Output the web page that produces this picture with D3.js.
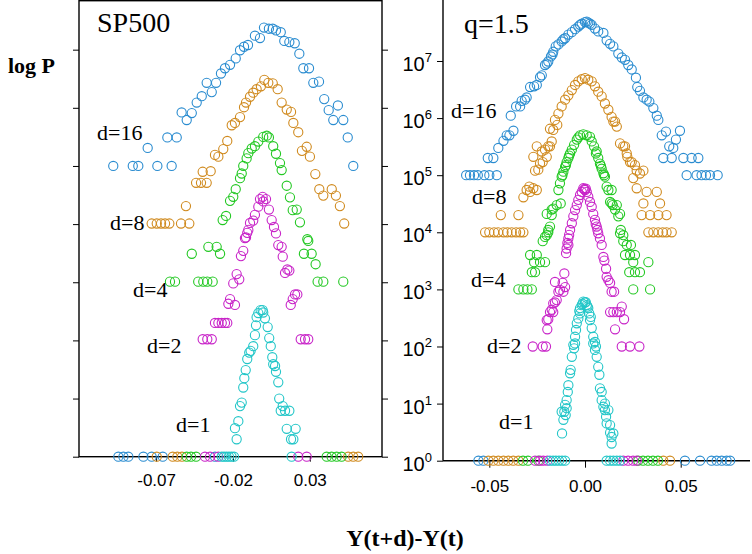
<!DOCTYPE html>
<html>
<head>
<meta charset="utf-8">
<script src="https://cdn.jsdelivr.net/npm/d3@7"></script>
<style>
  body { margin: 0; background: #fff; }
  svg { display: block; }
</style>
</head>
<body>
<div id="chart"></div>
<script>
// ----------------------------------------------
// DATA  (left: SP500, log P ; right: q=1.5 model, P)
// ----------------------------------------------
const seriesNames = ["d=16", "d=8", "d=4", "d=2", "d=1"];
const colors = ["#2a8cd0", "#d08a1e", "#22c822", "#c824c8", "#22c6c8"];

// left panel: [Y(t+d)-Y(t), log P]
const sp16 = [
  [-0.0979,5.0],[-0.0852,5.0],[-0.0816,5.0],[-0.0692,5.0],[-0.0599,5.0],
  [-0.0755,5.31],[-0.0627,5.49],[-0.0566,5.49],
  [-0.0534,5.92],[-0.0501,5.79],[-0.0468,5.91],[-0.0436,6.09],[-0.0403,6.20],
  [-0.0371,6.43],[-0.0338,6.27],[-0.0310,6.43],[-0.0278,6.59],[-0.0252,6.68],
  [-0.0219,6.74],[-0.0182,6.85],[-0.0154,6.99],[-0.0128,7.05],[-0.0102,7.08],
  [-0.0057,7.24],[-0.0024,7.20],[0.0002,7.38],[0.0034,7.36],[0.0059,7.36],
  [0.0080,7.33],[0.0111,7.30],[0.0134,7.15],[0.0167,7.13],[0.0202,7.11],
  [0.0232,6.93],[0.0258,6.68],[0.0295,6.68],[0.0323,6.43],[0.0360,6.45],
  [0.0394,6.15],[0.0423,5.96],[0.0483,6.04],[0.0453,5.79],[0.0518,5.79],
  [0.0547,5.49],[0.0583,5.0],
  [-0.0946,0],[-0.0913,0],[-0.0881,0],[-0.0783,0],[-0.0729,0],[-0.0657,0],[-0.0317,0]
];
const sp8 = [
  [-0.0506,4.31],[-0.0729,4.01],[-0.0696,4.01],[-0.0668,4.01],[-0.0642,4.01],[-0.0614,4.01],[-0.0538,4.01],[-0.0484,4.01],
  [-0.0440,4.71],[-0.0408,4.71],[-0.0371,4.71],[-0.0397,4.90],[-0.0345,4.91],
  [-0.0317,5.19],[-0.0295,5.16],[-0.0263,5.29],[-0.0237,5.43],[-0.0208,5.70],[-0.0187,5.74],[-0.0154,5.84],
  [-0.0128,6.01],[-0.0115,6.09],[-0.0089,6.19],[-0.0068,6.26],[-0.0046,6.32],[-0.0018,6.37],[0.0004,6.48],[0.0030,6.43],[0.0059,6.42],
  [0.0091,6.32],[0.0117,6.09],[0.0150,5.97],[0.0178,5.93],[0.0193,5.74],[0.0225,5.58],[0.0249,5.26],[0.0280,5.33],[0.0301,5.16],
  [0.0336,4.86],[0.0362,4.60],[0.0388,4.49],[0.0443,4.60],[0.0470,4.49],[0.0496,4.31],[0.0524,4.01],
  [-0.0696,0],[-0.0592,0],[-0.0562,0],[-0.0532,0],[0.0550,0],[0.0583,0],[0.0615,0]
];
const sp4 = [
  [-0.0003,5.50],[0.0020,5.52],[0.0034,5.49],[-0.0035,5.42],[-0.0057,5.34],[-0.0078,5.30],[-0.0100,5.22],[-0.0111,5.13],
  [-0.0133,5.00],[-0.0143,4.87],[-0.0154,4.79],[-0.0182,4.60],[-0.0198,4.47],[-0.0219,4.40],[-0.0245,4.14],[-0.0267,4.07],
  [0.0062,5.34],[0.0080,5.21],[0.0106,5.05],[0.0117,4.93],[0.0150,4.66],[0.0171,4.46],[0.0189,4.24],[0.0215,4.25],[0.0236,4.03],[0.0284,3.74],
  [-0.0468,3.49],[-0.0360,3.61],[-0.0306,3.61],[-0.0284,3.49],
  [-0.0610,3.01],[-0.0577,3.01],[-0.0426,3.01],[-0.0393,3.01],[-0.0367,3.01],[-0.0332,3.01],
  [0.0290,3.71],[0.0262,3.49],[0.0312,3.49],[0.0338,3.31],[0.0351,3.01],[0.0388,3.01],[0.0518,3.01],
  [-0.0501,0],[-0.0473,0],[-0.0440,0],[0.0410,0],[0.0442,0],[0.0475,0],[0.0507,0]
];
const sp2 = [
  [-0.0007,4.47],[0.0015,4.43],[-0.0024,4.43],[-0.0003,4.39],[-0.0035,4.30],[-0.0057,4.16],[-0.0068,4.06],[-0.0089,4.02],[-0.0100,3.90],[-0.0115,3.77],
  [0.0034,4.25],[0.0052,4.07],[0.0067,3.95],[0.0080,3.84],
  [-0.0107,3.85],[-0.0122,3.76],[-0.0133,3.54],[-0.0148,3.45],[-0.0176,3.14],[-0.0159,3.05],[-0.0198,2.98],[-0.0219,2.71],[-0.0230,2.63],[-0.0187,2.61],
  [-0.0317,2.30],[-0.0295,2.30],[-0.0273,2.30],[-0.0252,2.30],[-0.0237,2.30],[-0.0397,2.02],[-0.0367,2.02],[-0.0338,2.02],
  [0.0095,3.64],[0.0117,3.61],[0.0124,3.44],[0.0154,3.22],[0.0139,3.16],[0.0167,3.20],[0.0204,2.79],[0.0219,2.79],[0.0189,2.71],[0.0176,2.61],
  [0.0241,2.02],[0.0269,2.02],[0.0290,2.02],
  [-0.0382,0],[-0.0349,0],[-0.0295,0],[0.0225,0],[0.0280,0]
];
const sp1 = [
  [-0.0020,2.52],[-0.0007,2.52],[-0.0035,2.47],[-0.0003,2.48],[-0.0046,2.40],[0.0008,2.38],[-0.0050,2.26],[0.0026,2.23],[-0.0057,2.09],[0.0036,2.04],
  [0.0046,1.90],[-0.0068,1.90],[-0.0085,1.82],[-0.0094,1.79],[-0.0107,1.68],[0.0056,1.71],[0.0062,1.59],[0.0074,1.56],[0.0080,1.46],[0.0095,1.28],
  [-0.0117,1.49],[-0.0126,1.35],[-0.0133,1.19],[-0.0143,0.93],[-0.0154,0.87],[0.0101,1.00],[0.0124,0.87],[0.0111,0.79],[0.0139,0.79],[0.0167,0.79],
  [-0.0165,0.61],[-0.0187,0.49],[-0.0176,0.30],[0.0150,0.48],[0.0208,0.48],[0.0178,0.30],[0.0193,0.30],
  [-0.0273,0],[-0.0258,0],[-0.0242,0],[-0.0226,0],[-0.0209,0],[-0.0193,0],[0.0182,0]
];

// right panel: [Y(t+d)-Y(t), P]
const q16 = [
  [-0.0621,1e5],[-0.0601,1e5],[-0.0580,1e5],[-0.0560,1e5],[-0.0526,1e5],[-0.0500,1e5],[-0.0461,1e5],
  [-0.0508,2e5],[-0.0479,2e5],[-0.0453,3e5],[-0.0426,4e5],[-0.0409,5e5],[-0.0395,5e5],[-0.0374,6e5],
  [-0.0388,1.1e6],[-0.0360,1.6e6],[-0.0339,1.6e6],[-0.0331,2e6],[-0.0314,2.1e6],[-0.0305,2.3e6],
  [-0.0287,3.5e6],[-0.0266,3.6e6],[-0.0252,3.8e6],[-0.0235,5.2e6],[-0.0226,5.6e6],[-0.0209,8.5e6],[-0.0200,9e6],[-0.0192,9.8e6],
  [-0.0178,1.2e7],[-0.0170,1.3e7],[-0.0166,1.45e7],[-0.0153,1.8e7],[-0.0139,1.95e7],[-0.0122,2.2e7],[-0.0113,2.4e7],[-0.0104,2.5e7],[-0.0087,2.9e7],
  [-0.0069,3.2e7],[-0.0052,3.6e7],[-0.0035,4e7],[-0.0026,4.3e7],[-0.0017,4.5e7],[0.0000,4.8e7],[0.0009,4.9e7],
  [0.0017,4.7e7],[0.0026,4.5e7],[0.0035,4.3e7],[0.0052,3.7e7],[0.0069,3.3e7],[0.0096,3.1e7],[0.0113,2.3e7],[0.0131,2.0e7],[0.0148,1.8e7],
  [0.0174,1.35e7],[0.0192,1.15e7],[0.0209,1.05e7],[0.0226,8.5e6],[0.0244,7.1e6],[0.0266,5.1e6],[0.0273,3.5e6],[0.0287,3.0e6],
  [0.0305,2.3e6],[0.0322,2.1e6],[0.0336,1.95e6],[0.0357,1.5e6],[0.0375,1.1e6],[0.0383,9.3e5],[0.0401,5e5],[0.0423,5.8e5],
  [0.0440,3.2e5],[0.0461,3e5],[0.0475,4.2e5],[0.0496,6e5],
  [0.0409,2e5],[0.0453,2e5],[0.0514,2e5],[0.0557,2e5],[0.0592,2e5],
  [0.0531,1e5],[0.0583,1e5],[0.0609,1e5],[0.0632,1e5],[0.0653,1e5],[0.0693,1e5],
  [-0.0557,1],[-0.0531,1],[0.0522,1],[0.0601,1],[0.0661,1],[0.0688,1],[0.0714,1],[0.0740,1],[0.0758,1]
];
const q8 = [
  [-0.0522,1e4],[-0.0500,1e4],[-0.0475,1e4],[-0.0454,1e4],[-0.0426,1e4],[-0.0406,1e4],[-0.0383,1e4],[-0.0360,1e4],[-0.0339,1e4],[-0.0322,1e4],
  [0.0331,1e4],[0.0357,1e4],[0.0383,1e4],[0.0406,1e4],[0.0426,1e4],[0.0453,1e4],
  [-0.0440,2e4],[-0.0348,2e4],[0.0296,2e4],[0.0340,2e4],[0.0383,2e4],[0.0426,2e4],
  [0.0305,3.2e4],[0.0392,3.2e4],
  [-0.0322,4.1e4],[-0.0305,5.5e4],[-0.0287,5.1e4],[-0.0252,5.5e4],[-0.0291,6.3e4],[-0.0270,5.9e4],
  [-0.0261,1.2e5],[-0.0244,1.25e5],[-0.0235,1.6e5],[-0.0221,1.7e5],[-0.0200,2.1e5],[-0.0270,2.1e5],
  [-0.0252,3.2e5],[-0.0226,2.6e5],[-0.0209,2.8e5],[-0.0192,3.2e5],[-0.0183,3.2e5],[-0.0174,3.9e5],
  [-0.0183,6.5e5],[-0.0166,6.2e5],[-0.0145,7.6e5],[-0.0157,9.3e5],[-0.0139,1.2e6],[-0.0122,1.6e6],[-0.0104,2.1e6],
  [-0.0087,2.5e6],[-0.0069,3.1e6],[-0.0052,3.8e6],[-0.0035,4.4e6],[-0.0017,4.8e6],[0.0000,5e6],
  [0.0017,4.7e6],[0.0035,4.4e6],[0.0052,3.6e6],[0.0069,2.9e6],[0.0087,2.4e6],[0.0104,1.8e6],[0.0122,1.4e6],
  [0.0139,1.05e6],[0.0157,8.7e5],[0.0148,8.7e5],[0.0166,7.1e5],
  [0.0183,3.6e5],[0.0200,3.2e5],[0.0209,3.2e5],[0.0218,2.4e5],[0.0221,2.1e5],[0.0235,1.7e5],[0.0244,1.7e5],
  [0.0261,1.5e5],[0.0270,1.2e5],[0.0287,1.07e5],[0.0305,1.2e5],[0.0252,8.9e4],[0.0270,5.9e4],[0.0322,5.1e4],[0.0375,5.1e4],
  [-0.0505,1],[-0.0479,1],[-0.0453,1],[-0.0426,1],[-0.0401,1],[-0.0375,1],[-0.0348,1],[0.0409,1],[0.0444,1]
];
const q4 = [
  [-0.0026,5e5],[-0.0009,5.2e5],[0.0009,5e5],[0.0026,4.7e5],[-0.0035,4.6e5],
  [-0.0043,4.2e5],[-0.0057,3.4e5],[-0.0069,2.8e5],[-0.0078,2.4e5],[-0.0083,2.2e5],[-0.0087,2e5],[-0.0096,1.7e5],
  [-0.0100,1.5e5],[-0.0104,1.4e5],[-0.0113,1.15e5],[-0.0118,1e5],[-0.0122,9.4e4],[-0.0131,7.2e4],[-0.0139,5.5e4],
  [-0.0127,3.2e4],[-0.0148,3e4],[-0.0166,2.6e4],[-0.0174,2.5e4],[-0.0174,2e4],[-0.0200,2.1e4],[-0.0183,1.26e4],
  [-0.0192,1.1e4],[-0.0200,8.9e3],[-0.0192,1e4],[-0.0209,8.3e3],[-0.0221,7e3],
  [-0.0287,4e3],[-0.0252,4e3],[-0.0266,3e3],[-0.0235,3e3],[-0.0209,3e3],[-0.0278,2e3],[-0.0261,2e3],
  [-0.0348,1e3],[-0.0322,1e3],[-0.0301,1e3],[-0.0278,1e3],
  [0.0035,3.9e5],[0.0047,3.2e5],[0.0057,2.4e5],[0.0061,2.6e5],[0.0069,2e5],[0.0078,1.6e5],[0.0083,1.45e5],[0.0087,1.3e5],
  [0.0096,1.08e5],[0.0100,1e5],[0.0104,9.4e4],[0.0113,6.3e4],[0.0122,5.5e4],[0.0139,5.5e4],
  [0.0131,3.4e4],[0.0139,3.2e4],[0.0145,3e4],[0.0166,3e4],[0.0157,2.5e4],[0.0183,2.1e4],[0.0174,1.9e4],
  [0.0187,1.1e4],[0.0200,8.9e3],[0.0183,9.6e3],[0.0200,7e3],[0.0218,6e3],[0.0240,6e3],
  [0.0209,4e3],[0.0235,4e3],[0.0261,4e3],[0.0252,3e3],[0.0331,3e3],[0.0231,2e3],[0.0261,2e3],[0.0287,2e3],[0.0252,1e3],[0.0340,1e3],
  [-0.0324,1],[-0.0298,1],[-0.0244,1],[0.0278,1],[0.0303,1],[0.0329,1],[0.0355,1],[0.0381,1]
];
const q2 = [
  [-0.0009,5.9e4],[0.0000,5.5e4],[-0.0017,5.1e4],[0.0009,5.1e4],[-0.0004,5.7e4],[0.0004,5.8e4],
  [-0.0026,4.5e4],[-0.0035,3.7e4],[-0.0043,3e4],[-0.0052,2.45e4],[-0.0061,1.9e4],[-0.0069,1.44e4],[-0.0078,1.1e4],
  [-0.0083,9e3],[-0.0087,7.8e3],[-0.0092,6.5e3],[-0.0087,6e3],[-0.0096,5.2e3],[-0.0099,4.3e3],
  [-0.0108,1.9e3],[-0.0117,1.3e3],[-0.0104,1.1e3],[-0.0157,1.35e3],[-0.0131,980],[-0.0139,910],[-0.0113,910],
  [-0.0148,650],[-0.0157,590],[-0.0166,570],[-0.0174,440],[-0.0183,400],[-0.0166,400],[-0.0192,300],[-0.0200,290],[-0.0197,200],
  [-0.0273,100],[-0.0221,100],[-0.0204,100],
  [0.0017,4.2e4],[0.0026,3.4e4],[0.0035,2.8e4],[0.0043,2.1e4],[0.0052,1.65e4],[0.0056,1.4e4],[0.0061,1.26e4],[0.0065,1.1e4],
  [0.0069,9.6e3],[0.0078,7.8e3],[0.0087,6e3],[0.0096,3.7e3],[0.0101,3.2e3],[0.0110,2.3e3],[0.0113,1.66e3],
  [0.0122,1.45e3],[0.0131,1.3e3],[0.0139,910],[0.0152,910],
  [0.0131,400],[0.0148,400],[0.0166,400],[0.0183,400],[0.0192,500],[0.0204,300],[0.0157,200],
  [0.0192,100],[0.0235,100],[0.0284,100],
  [-0.0261,1],[-0.0235,1],[-0.0218,1],[-0.0197,1],[0.0200,1],[0.0225,1],[0.0251,1],[0.0270,1]
];
const q1 = [
  [-0.0009,610],[0.0000,590],[0.0004,600],[-0.0013,560],[-0.0017,530],[0.0009,530],[0.0013,500],[-0.0026,470],[0.0017,470],
  [-0.0030,420],[-0.0026,380],[-0.0035,310],[-0.0043,255],[-0.0047,195],[-0.0052,148],[-0.0061,107],[-0.0052,113],
  [-0.0057,93],[-0.0069,66],[-0.0075,39],[-0.0078,34],[-0.0087,21],[-0.0090,16],[-0.0096,11.5],[-0.0104,9.5],
  [-0.0096,8.3],[-0.0108,7.2],[-0.0122,7.2],[-0.0101,6.3],[-0.0113,5.2],[-0.0120,3],
  [0.0022,380],[0.0030,330],[0.0026,290],[0.0035,210],[0.0043,148],[0.0052,120],[0.0057,100],[0.0043,113],[0.0052,87],
  [0.0061,66],[0.0069,44],[0.0075,32],[0.0078,18.5],[0.0087,16],[0.0087,11.5],[0.0096,8.8],[0.0104,10],[0.0104,7.7],
  [0.0122,7.7],[0.0110,5.9],[0.0113,4.5],[0.0131,4.2],[0.0131,3.1],[0.0148,3],[0.0139,2.6],[0.0139,2],
  [-0.0183,1],[-0.0167,1],[-0.0152,1],[-0.0136,1],[-0.0120,1],[-0.0104,1],[0.0113,1],[0.0131,1],[0.0148,1],[0.0166,1],[0.0183,1]
];

const leftSeries = [sp16, sp8, sp4, sp2, sp1];
const rightSeries = [q16, q8, q4, q2, q1];

const leftXTicks = [-0.07, -0.02, 0.03];
const leftYTicks = [0, 1, 2, 3, 4, 5, 6, 7];
const rightXTicks = [-0.05, 0, 0.05];
const rightYTicks = [1, 1e1, 1e2, 1e3, 1e4, 1e5, 1e6, 1e7];

// label positions [x, baseline] in px
const leftLabelPos = [[97,140],[110,230],[133,297],[147,353],[176,432]];
const rightLabelPos = [[451,118],[472,204],[471,287],[487,353],[499,429]];

const SERIF = "'Liberation Serif', 'Times New Roman', 'DejaVu Serif', serif";
const SANS = "'Liberation Sans', Arial, sans-serif";

// ----------------------------------------------
// SVG
// ----------------------------------------------
const svg = d3.select("#chart").append("svg")
  .attr("width", 752)
  .attr("height", 554);

function drawPoints(g, data, x, y, color) {
  g.selectAll(null)
    .data(data)
    .enter()
    .append("circle")
    .attr("cx", d => x(d[0]))
    .attr("cy", d => y(d[1]))
    .attr("r", 4.6)
    .attr("fill", "none")
    .attr("stroke", color)
    .attr("stroke-width", 1.1);
}

function label(g, x, y, size, txt) {
  return g.append("text")
    .attr("x", x).attr("y", y)
    .attr("font-family", SERIF)
    .attr("font-size", size)
    .text(txt);
}

// ---------- left panel (SP500) ----------
const xL = d3.scaleLinear().domain([-0.1202, 0.0770]).range([79, 382]);
const yL = d3.scaleLinear().domain([0, 7.854]).range([456.7, 0]);

const left = svg.append("g");

left.append("rect")
  .attr("x", 79).attr("y", 0.7)
  .attr("width", 303).attr("height", 456)
  .attr("fill", "none")
  .attr("stroke", "#000")
  .attr("stroke-width", 1.4);

left.append("g")
  .attr("transform", "translate(79,0)")
  .call(d3.axisLeft(yL).tickValues(leftYTicks).tickSize(6).tickFormat(""))
  .call(g => g.select(".domain").remove());

left.append("g")
  .attr("transform", "translate(382,0)")
  .call(d3.axisRight(yL).tickValues(leftYTicks).tickSize(6).tickFormat(""))
  .call(g => g.select(".domain").remove());

const lx = left.append("g")
  .attr("transform", "translate(0,456.7)")
  .call(d3.axisBottom(xL).tickValues(leftXTicks).tickSize(5).tickFormat(d => d.toFixed(2)));
lx.select(".domain").remove();
lx.selectAll("text")
  .attr("font-family", SANS)
  .attr("font-size", 17)
  .attr("fill", "#000")
  .attr("dy", null)
  .attr("y", 29);

leftSeries.forEach((s, i) => drawPoints(left, s, xL, yL, colors[i]));

label(left, 97, 31.5, 28, "SP500");
leftLabelPos.forEach((p, i) => label(left, p[0], p[1], 22, seriesNames[i]));

// ---------- right panel (q = 1.5) ----------
const xR = d3.scaleLinear().domain([-0.0742, 0.0862]).range([443, 750]);
const yR = d3.scaleLog().domain([1, Math.pow(10, 8.068)]).range([460.7, 0]);

const right = svg.append("g");

const ry = right.append("g")
  .attr("transform", "translate(443,0)")
  .call(d3.axisLeft(yR).tickValues(rightYTicks).tickSize(6).tickFormat(""));
ry.select(".domain").attr("d", "M0,0V460.7").attr("stroke-width", 1.4);

// 10^n tick labels
rightYTicks.forEach(v => {
  const t = right.append("text")
    .attr("font-family", SANS)
    .attr("x", 402.5).attr("y", yR(v) + 10)
    .attr("font-size", 20)
    .text("10");
  t.append("tspan")
    .attr("font-size", 13)
    .attr("dy", -9)
    .text(Math.round(Math.log10(v)));
});

const rx = right.append("g")
  .attr("transform", "translate(0,460.7)")
  .call(d3.axisBottom(xR).tickValues(rightXTicks).tickSize(7).tickFormat(d => d.toFixed(2)));
rx.select(".domain").attr("d", "M443,0H750").attr("stroke-width", 1.4);
rx.selectAll("text")
  .attr("font-family", SANS)
  .attr("font-size", 17)
  .attr("fill", "#000")
  .attr("dy", null)
  .attr("y", 31);

rightSeries.forEach((s, i) => drawPoints(right, s, xR, yR, colors[i]));

label(right, 464, 33, 28, "q=1.5");
rightLabelPos.forEach((p, i) => label(right, p[0], p[1], 22, seriesNames[i]));

// ---------- axis titles ----------
label(svg, 8, 73, 22, "log P").attr("font-weight", "bold");

label(svg, 405, 546, 24, "Y(t+d)-Y(t)")
  .attr("text-anchor", "middle")
  .attr("font-weight", "bold");
</script>
</body>
</html>
